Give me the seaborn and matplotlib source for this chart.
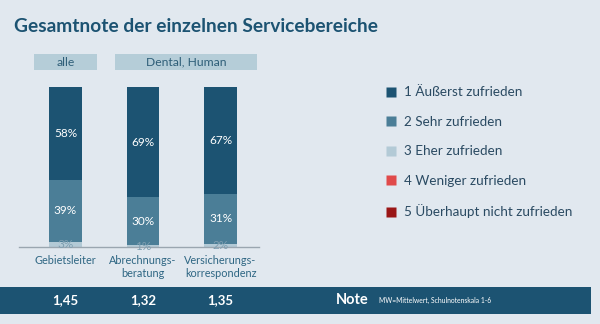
import matplotlib
matplotlib.use("Agg")
import matplotlib.pyplot as plt
import matplotlib.transforms as mtransforms
from matplotlib.patches import Rectangle
from matplotlib.lines import Line2D
import seaborn as sns
import pandas as pd

# ---- data ----
categories = ["Gebietsleiter", "Abrechnungs-\nberatung", "Versicherungs-\nkorrespondenz"]
s1 = [58, 69, 67]   # 1 Äußerst zufrieden
s2 = [39, 30, 31]   # 2 Sehr zufrieden
s3 = [3, 1, 2]      # 3 Eher zufrieden
s4 = [0, 0, 0]      # 4 Weniger zufrieden
s5 = [0, 0, 0]      # 5 Überhaupt nicht zufrieden
series_names = ["1 Äußerst zufrieden", "2 Sehr zufrieden", "3 Eher zufrieden",
                "4 Weniger zufrieden", "5 Überhaupt nicht zufrieden"]
grades = ["1,45", "1,32", "1,35"]
group_labels = ["alle", "Dental, Human"]
title = "Gesamtnote der einzelnen Servicebereiche"
note_label = "Note"
note_text = "MW=Mittelwert, Schulnotenskala 1-6"

colors = ["#1c5372", "#4b7e97", "#b3cad6", "#e04a4a", "#9a1616"]
bg = "#e1e8ef"
dark = "#1c5372"

sns.set_theme(style="white")
plt.rcParams["font.family"] = ["Lato", "DejaVu Sans"]

fig = plt.figure(figsize=(6.0, 3.24), dpi=100, facecolor=bg)
W, H = 600, 324
ax = fig.add_axes([19 / W, (H - 247) / H, 240.25 / W, 160 / H])
ax.set_facecolor(bg)

df = pd.DataFrame({"cat": categories, "s1": s1, "s2": s2, "s3": s3, "s4": s4, "s5": s5})
# stacking order from bottom: 3, 2, 1 (4 and 5 are zero)
stack = [("s3", 2), ("s2", 1), ("s1", 0), ("s4", 3), ("s5", 4)]
bottom = [0, 0, 0]
for col, ci in stack:
    sns.barplot(data=df, x="cat", y=col, color=colors[ci], saturation=1,
                width=0.425, bottom=bottom, ax=ax, linewidth=0)
    bottom = [b + v for b, v in zip(bottom, df[col])]

# labels
conts = ax.containers
lab_colors = ["#7f9fb1", "white", "white"]
for cont, (col, ci), lc in zip(conts[:3], stack[:3], lab_colors):
    texts = ax.bar_label(cont, labels=[f"{v}%" for v in df[col]], label_type="center",
                         color=lc, fontsize=8.5)
    for t in texts:
        t.set_clip_on(True)

ax.set_xlim(-0.6, 2.5)
ax.set_ylim(0, 100)
ax.set_xlabel("")
ax.set_ylabel("")
ax.set_yticks([])
ax.set_xticks([0, 1, 2])
ax.set_xticklabels(categories, fontsize=7.8, color="#2e6683", linespacing=1.15)
ax.tick_params(axis="x", length=0, pad=6)
ax.set_xticks([-0.6, 0.59, 1.54, 2.5], minor=True)
ax.tick_params(axis="x", which="minor", length=5, color="#9aa6b0", width=1, direction="out")
for s in ["top", "right", "left"]:
    ax.spines[s].set_visible(False)
ax.spines["bottom"].set_color("#9aa6b0")
ax.spines["bottom"].set_linewidth(1)

# group label boxes
trans_box = mtransforms.blended_transform_factory(ax.transData, fig.transFigure)
boxes = [(-0.41, 0.41), (0.64, 2.47)]
for (x0, x1), lab in zip(boxes, group_labels):
    r = Rectangle((x0, (H - 70) / H), x1 - x0, 16 / H, transform=trans_box,
                  facecolor="#b5cdd8", edgecolor="none", clip_on=False)
    fig.add_artist(r)
    fig.text((x0 + x1) / 2, (H - 62) / H, lab, transform=trans_box, ha="center",
             va="center", fontsize=8.7, color="#2e5e78")

# title
fig.text(14 / W, (H - 27) / H, title, fontsize=13.8, fontweight="bold", color=dark,
         ha="left", va="center")

# legend
handles = [Line2D([], [], marker="s", linestyle="none", markersize=7,
                  markerfacecolor=c, markeredgecolor="none") for c in colors]
fig.legend(handles, series_names, loc="upper left", bbox_to_anchor=(380 / W, (H - 81) / H),
           frameon=False, fontsize=9.7, labelcolor="#2a4a62", handlelength=0.8,
           handletextpad=0.6, labelspacing=1.3, borderaxespad=0)

# bottom band
band = Rectangle((0, (H - 314) / H), 591 / W, 27 / H, transform=fig.transFigure,
                 facecolor=dark, edgecolor="none")
fig.add_artist(band)
for i, g in enumerate(grades):
    fig.text(i, (H - 300) / H, g, transform=trans_box, ha="center", va="center",
             fontsize=9.5, fontweight="bold", color="white")
fig.text(352 / W, (H - 300) / H, note_label, ha="center", va="center", fontsize=10.5,
         fontweight="bold", color="white")
fig.text(379 / W, (H - 300) / H, note_text, ha="left", va="center", fontsize=4.9,
         color="white")

fig.savefig("out.png", dpi=100, facecolor=bg)
